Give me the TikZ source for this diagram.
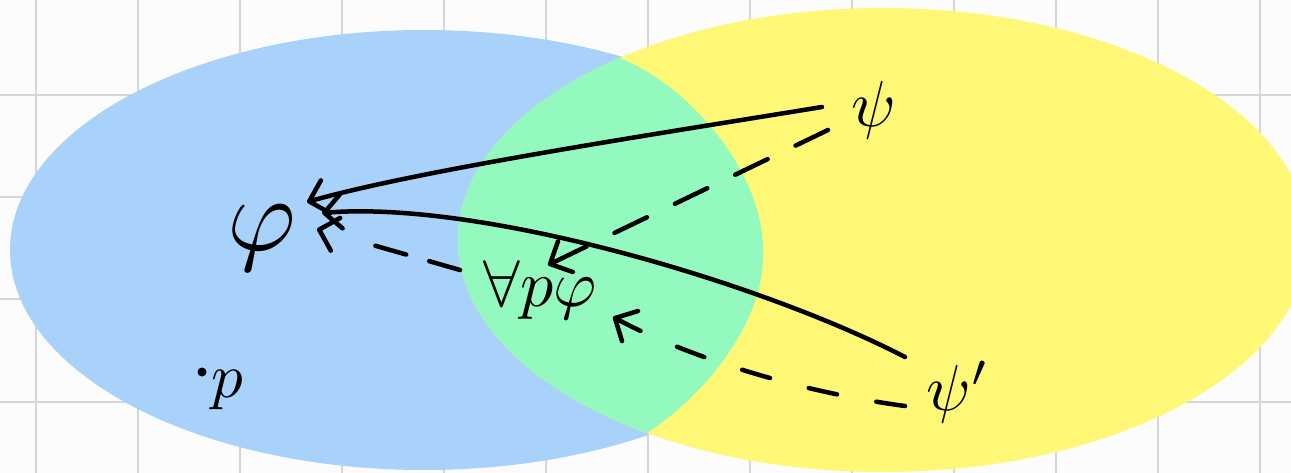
\documentclass[tikz,border=0pt]{standalone}
\usetikzlibrary{arrows.meta}
\definecolor{bgc}{RGB}{252,252,252}
\definecolor{gridc}{RGB}{214,214,214}
\definecolor{blueset}{RGB}{169,210,251}
\definecolor{yellowset}{RGB}{254,248,118}
\definecolor{greenset}{RGB}{147,249,190}
\begin{document}
\begin{tikzpicture}[x=1pt,y=-1pt,
  hand/.style={line width=4.5pt, line cap=round, line join=round, draw=black},
  tipped/.style={hand, -{Straight Barb[length=17pt,width=34pt,round]}},
  lbl/.style={inner sep=0pt, text=black},
  gridline/.style={draw=gridc, line width=2pt}
]
\useasboundingbox (0,0) rectangle (1291,473);
\fill[bgc] (0,0) rectangle (1291,473);
\foreach \i in {0,...,12} \draw[gridline] ({36+102*\i},0) -- ({36+102*\i},473);
\foreach \j in {-7,95,197,299,402} \draw[gridline] (0,\j) -- (1291,\j);
% sets
\fill[blueset] (424,250) ellipse [x radius=414pt, y radius=220pt];
\fill[yellowset] (883,240) ellipse [x radius=425pt, y radius=232pt];
\begin{scope}
  \clip (883,240) ellipse [x radius=425pt, y radius=232pt];
  \fill[greenset] (617,57) .. controls (690,85) and (760,170) .. (763,245)
     .. controls (768,320) and (705,395) .. (647,433)
     -- (647,480) -- (380,480) -- (380,-10) -- (617,-10) -- cycle;
\end{scope}
% labels
\node[lbl, scale=10.5] (phi) at (262,238) {$\varphi$};
\node[lbl, scale=6.5] (psi) at (874,110) {$\psi$};
\node[lbl, scale=6.5] (psip) at (958,392) {$\psi'$};
\node[lbl, scale=6.6] (fpp) at (540,290) {$\forall p\varphi$};
\node[circle, fill=black, inner sep=0pt, minimum size=9pt] (pt) at (202,372) {};
\node[lbl, scale=6.3] (plabel) at (227,390) {$p$};
% connector ends
\coordinate (a1s) at (822,107); \coordinate (a1e) at (307,202);
\coordinate (a2s) at (905,357); \coordinate (a2e) at (322,213);
\coordinate (a3s) at (828,130); \coordinate (a3e) at (548,265);
\coordinate (a4s) at (460,270); \coordinate (a4e) at (317,229);
\coordinate (a5s) at (905,406); \coordinate (a5e) at (613,317);
% connectors
\draw[tipped] (a1s) .. controls (650,135) and (420,170) .. (a1e);
\draw[tipped] (a2s) .. controls (760,282) and (480,200) .. (a2e);
\draw[tipped, dash pattern=on 36pt off 31pt] (a3s) -- (a3e);
\draw[tipped, dash pattern=on 32pt off 24pt on 32pt off 300pt] (a4s) -- (a4e);
\draw[tipped, dash pattern=on 29pt off 40pt] (a5s) .. controls (800,392) and (690,358) .. (a5e);
\end{tikzpicture}
\end{document}
